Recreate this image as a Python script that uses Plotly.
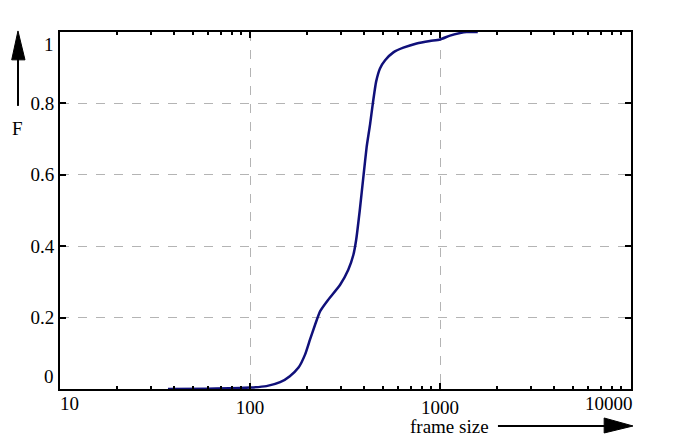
import plotly.graph_objects as go

# CDF of frame sizes
frame_size = [37, 60, 100, 122, 144, 162, 180, 195, 207, 220, 234, 258, 298,
              329, 350, 362, 378, 396, 411, 428, 443, 461, 483, 514, 568, 641,
              753, 885, 1000, 1129, 1274, 1380, 1580]
cdf = [0.0, 0.001, 0.004, 0.008, 0.019, 0.036, 0.06, 0.097, 0.139, 0.18, 0.218,
       0.25, 0.292, 0.334, 0.376, 0.418, 0.5, 0.6, 0.678, 0.74, 0.80, 0.861,
       0.898, 0.921, 0.943, 0.956, 0.968, 0.975, 0.979, 0.99, 0.997, 1.0, 1.0]

x_ticks = [10, 100, 1000, 10000]
x_labels = ["", "100", "1000", ""]
y_ticks = [0, 0.2, 0.4, 0.6, 0.8, 1]
y_labels = ["", "0.2", "0.4", "0.6", "0.8", ""]

font = dict(family="Liberation Serif", size=19, color="black")

fig = go.Figure()
fig.add_trace(
    go.Scatter(
        x=frame_size,
        y=cdf,
        mode="lines",
        line=dict(color="#10107a", width=2.5, shape="spline", smoothing=0.5),
        showlegend=False,
    )
)

minor_x = [m * 10 ** e for e in range(1, 4) for m in range(2, 10)]

fig.update_xaxes(
    type="log",
    range=[1, 4.005],
    tickvals=x_ticks,
    ticktext=x_labels,
    ticks="inside",
    ticklen=6,
    tickwidth=1.5,
    tickcolor="black",
    showline=True,
    linecolor="black",
    linewidth=2,
    mirror="ticks",
    showgrid=True,
    gridcolor="#b4b4b4",
    griddash="dash",
    gridwidth=1,
    zeroline=False,
    minor=dict(tickvals=minor_x, ticks="inside", ticklen=3, tickcolor="black",
               tickwidth=1.5, showgrid=False),
    tickfont=font,
)
fig.update_yaxes(
    range=[0, 1],
    tickvals=y_ticks,
    ticktext=y_labels,
    ticks="inside",
    ticklen=6,
    tickwidth=1.5,
    tickcolor="black",
    showline=True,
    linecolor="black",
    linewidth=2,
    mirror="ticks",
    showgrid=True,
    gridcolor="#b4b4b4",
    griddash="dash",
    gridwidth=1,
    zeroline=False,
    tickfont=font,
)

# edge tick labels, nudged inward like the original
annotations = [
    dict(text="0", xref="paper", yref="y", x=0, y=0, xanchor="right", yanchor="bottom", xshift=-4),
    dict(text="1", xref="paper", yref="y", x=0, y=1, xanchor="right", yanchor="top", xshift=-4),
    dict(text="10", xref="x", yref="paper", x=1, y=0, xanchor="left", yanchor="top", yshift=-2, xshift=-2),
    dict(text="10000", xref="x", yref="paper", x=4.005, y=0, xanchor="right", yanchor="top", yshift=-2, xshift=4),
    dict(text="F", xref="paper", yref="paper", x=-0.0736, y=0.731, xanchor="center", yanchor="middle"),
    dict(text="frame size", xref="paper", yref="paper", x=0.755, y=-0.104, xanchor="right", yanchor="middle"),
]
for a in annotations:
    a.update(showarrow=False, font=font)

shapes = [
    # vertical arrow next to F
    dict(type="line", xref="paper", yref="paper", x0=-0.0736, x1=-0.0736, y0=0.793, y1=0.93,
         line=dict(color="black", width=2)),
    dict(type="path", xref="paper", yref="paper",
         path="M -0.0846 0.922 L -0.0736 1.003 L -0.0613 0.922 Z",
         fillcolor="black", line=dict(color="black", width=1)),
    # horizontal arrow after "frame size"
    dict(type="line", xref="paper", yref="paper", x0=0.767, x1=0.96, y0=-0.1036, y1=-0.1036,
         line=dict(color="black", width=2)),
    dict(type="path", xref="paper", yref="paper",
         path="M 0.953 -0.0812 L 1.0035 -0.1036 L 0.953 -0.1232 Z",
         fillcolor="black", line=dict(color="black", width=1)),
]

# the page puts the figure 8px in from the top-left corner
fig.update_layout(
    width=673,
    height=437,
    margin=dict(l=52, r=50, t=24, b=56),
    paper_bgcolor="white",
    plot_bgcolor="white",
    font=font,
    annotations=annotations,
    shapes=shapes,
)

fig.write_html("out.html")
